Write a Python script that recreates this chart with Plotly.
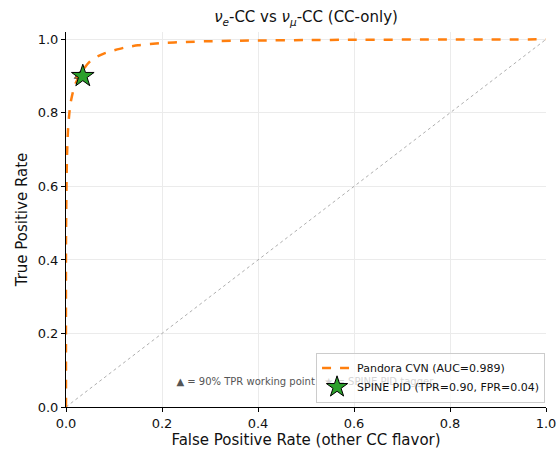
import plotly.graph_objects as go

fpr = [0.0, 0.0, 0.001, 0.002, 0.004, 0.007, 0.01, 0.015, 0.02, 0.03, 0.04, 0.05, 0.06, 0.08, 0.10, 0.12, 0.15, 0.2, 0.25, 0.3, 0.4, 0.5, 0.6, 0.8, 1.0]
tpr = [0.0, 0.45, 0.6, 0.68, 0.75, 0.8, 0.83, 0.86, 0.88, 0.905, 0.925, 0.94, 0.95, 0.962, 0.97, 0.977, 0.984, 0.99, 0.993, 0.995, 0.997, 0.998, 0.999, 0.9995, 1.0]
diag = [0.0, 1.0]
wp_fpr = [0.028]
wp_tpr = [0.90]
spine_fpr = [0.035]
spine_tpr = [0.90]
note_text = "▲ = 90% TPR working point   ★ = SPINE PID tagger"

FONT = "DejaVu Sans"
fig = go.Figure()
fig.add_trace(go.Scatter(x=diag, y=diag, mode="lines", line=dict(color="#999999", width=0.8, dash="dot"),
                         showlegend=False, hoverinfo="skip"))
fig.add_trace(go.Scatter(x=[0.23], y=[0.068], mode="text", text=[note_text], textposition="middle right",
                         textfont=dict(family=FONT, size=10, color="#555555"), showlegend=False, hoverinfo="skip",
                         cliponaxis=False))
fig.add_trace(go.Scatter(x=fpr, y=tpr, mode="lines", line=dict(color="#ff7f0e", width=2.5, dash="dash", shape="spline", smoothing=0.6),
                         name="Pandora CVN (AUC=0.989)"))
fig.add_trace(go.Scatter(x=wp_fpr, y=wp_tpr, mode="markers", marker=dict(symbol="triangle-up", size=9, color="#ff7f0e",
                         line=dict(color="#333333", width=0.8)), showlegend=False))
fig.add_trace(go.Scatter(x=spine_fpr, y=spine_tpr, mode="markers", marker=dict(symbol="star", size=17, color="#2ca02c",
                         line=dict(color="black", width=1)), name="SPINE PID (TPR=0.90, FPR=0.04)"))

axis_common = dict(showline=True, linecolor="black", linewidth=1, ticks="outside", ticklen=4, tickcolor="black",
                   showgrid=True, gridcolor="#ebebeb", gridwidth=1, zeroline=False, mirror=False, automargin=False,
                   tickfont=dict(family=FONT, size=13, color="#111"), tickformat=".1f", dtick=0.2)
fig.update_xaxes(range=[0, 1], title=dict(text="False Positive Rate (other CC flavor)", font=dict(family=FONT, size=15, color="#111"), standoff=4), **axis_common)
fig.update_yaxes(range=[0, 1.02], title=dict(text="True Positive Rate", font=dict(family=FONT, size=15, color="#111"), standoff=6), **axis_common)

fig.update_layout(
    width=559, height=451, margin=dict(l=66, r=13, t=32, b=44, autoexpand=False),
    plot_bgcolor="white", paper_bgcolor="white",
    title=dict(text="<i>ν</i><sub><i>e</i></sub>-CC vs <i>ν</i><sub><i>μ</i></sub>-CC (CC-only)", x=0.5, xref="paper",
               y=0.962, yanchor="middle", font=dict(family=FONT, size=15, color="#111")),
    legend=dict(x=0.998, y=0.012, xanchor="right", yanchor="bottom", bgcolor="rgba(255,255,255,0.75)",
                bordercolor="#cccccc", borderwidth=1, font=dict(family=FONT, size=11, color="#111"),
                tracegroupgap=0, itemwidth=30),
)
fig.write_html("out.html")
